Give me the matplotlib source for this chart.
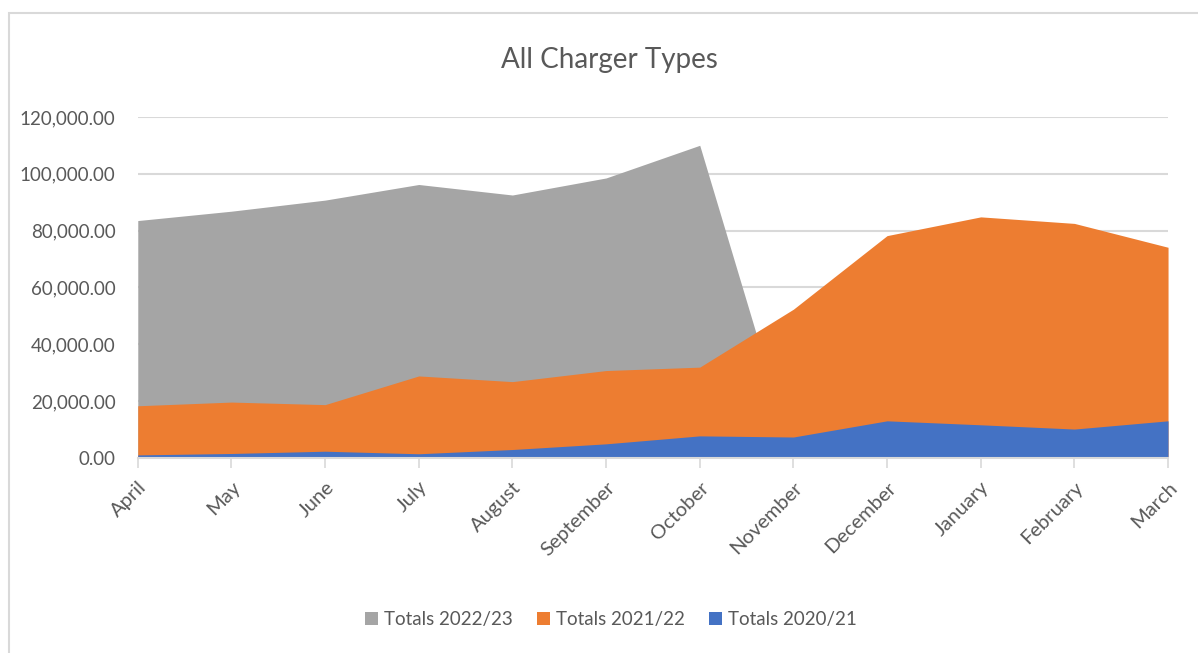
import matplotlib
matplotlib.use("Agg")
import matplotlib.pyplot as plt
from matplotlib.patches import Rectangle
from matplotlib.ticker import FuncFormatter

months = ["April", "May", "June", "July", "August", "September", "October",
          "November", "December", "January", "February", "March"]
totals_2022_23 = [83500, 86800, 90700, 96200, 92500, 98500, 110000, 0, 0, 0, 0, 0]
totals_2021_22 = [18300, 19600, 18700, 28800, 26800, 30700, 31900, 52300, 78200, 84800, 82500, 74100]
totals_2020_21 = [1000, 1500, 2300, 1400, 2900, 4900, 7700, 7300, 13000, 11600, 10100, 13000]
series_labels = ["Totals 2022/23", "Totals 2021/22", "Totals 2020/21"]
colors = ["#A5A5A5", "#ED7D31", "#4472C4"]

plt.rcParams['font.family'] = ['Lato', 'DejaVu Sans']
txt = "#595959"

fig = plt.figure(figsize=(11.98, 6.53), dpi=100)
ax = fig.add_axes([0.115, 0.299, 0.860, 0.522])

x = list(range(len(months)))
for vals, lab, c in zip([totals_2022_23, totals_2021_22, totals_2020_21], series_labels, colors):
    ax.fill_between(x, 0, vals, color=c, linewidth=0, label=lab, zorder=2)

ax.set_xlim(0, len(months) - 1)
ax.set_ylim(0, 120000)
ax.set_yticks(range(0, 120001, 20000))
ax.yaxis.set_major_formatter(FuncFormatter(lambda v, p: f"{v:,.2f}"))
ax.grid(axis='y', color="#D9D9D9", linewidth=1.5, zorder=0)
ax.set_axisbelow(True)
for s in ["top", "right", "left"]:
    ax.spines[s].set_visible(False)
ax.spines["bottom"].set_color("#D9D9D9")
ax.spines["bottom"].set_linewidth(1.5)
ax.spines["bottom"].set_zorder(3)
ax.tick_params(axis='y', length=0, labelsize=13.5, labelcolor=txt, pad=16)
ax.tick_params(axis='x', length=7, width=1.2, color="#D9D9D9", labelsize=14.5, labelcolor=txt, pad=8)
ax.set_xticks(x)
ax.set_xticklabels(months, rotation=45, ha='right', rotation_mode='anchor')

fig.text(0.509, 0.908, "All Charger Types", ha='center', va='center', fontsize=20, color=txt)

handles, labels = ax.get_legend_handles_labels()
fig.legend(handles, labels, loc='center', bbox_to_anchor=(0.51, 0.051), ncol=3, frameon=False,
           fontsize=13.5, labelcolor=txt, handlelength=0.7, handleheight=0.7, handletextpad=0.3,
           columnspacing=1.3)

fig.patches.append(Rectangle((0.0075, -0.05), 1.2, 1.03, transform=fig.transFigure,
                             fill=False, edgecolor="#D9D9D9", linewidth=1.5))

fig.savefig("out.png", dpi=100)
